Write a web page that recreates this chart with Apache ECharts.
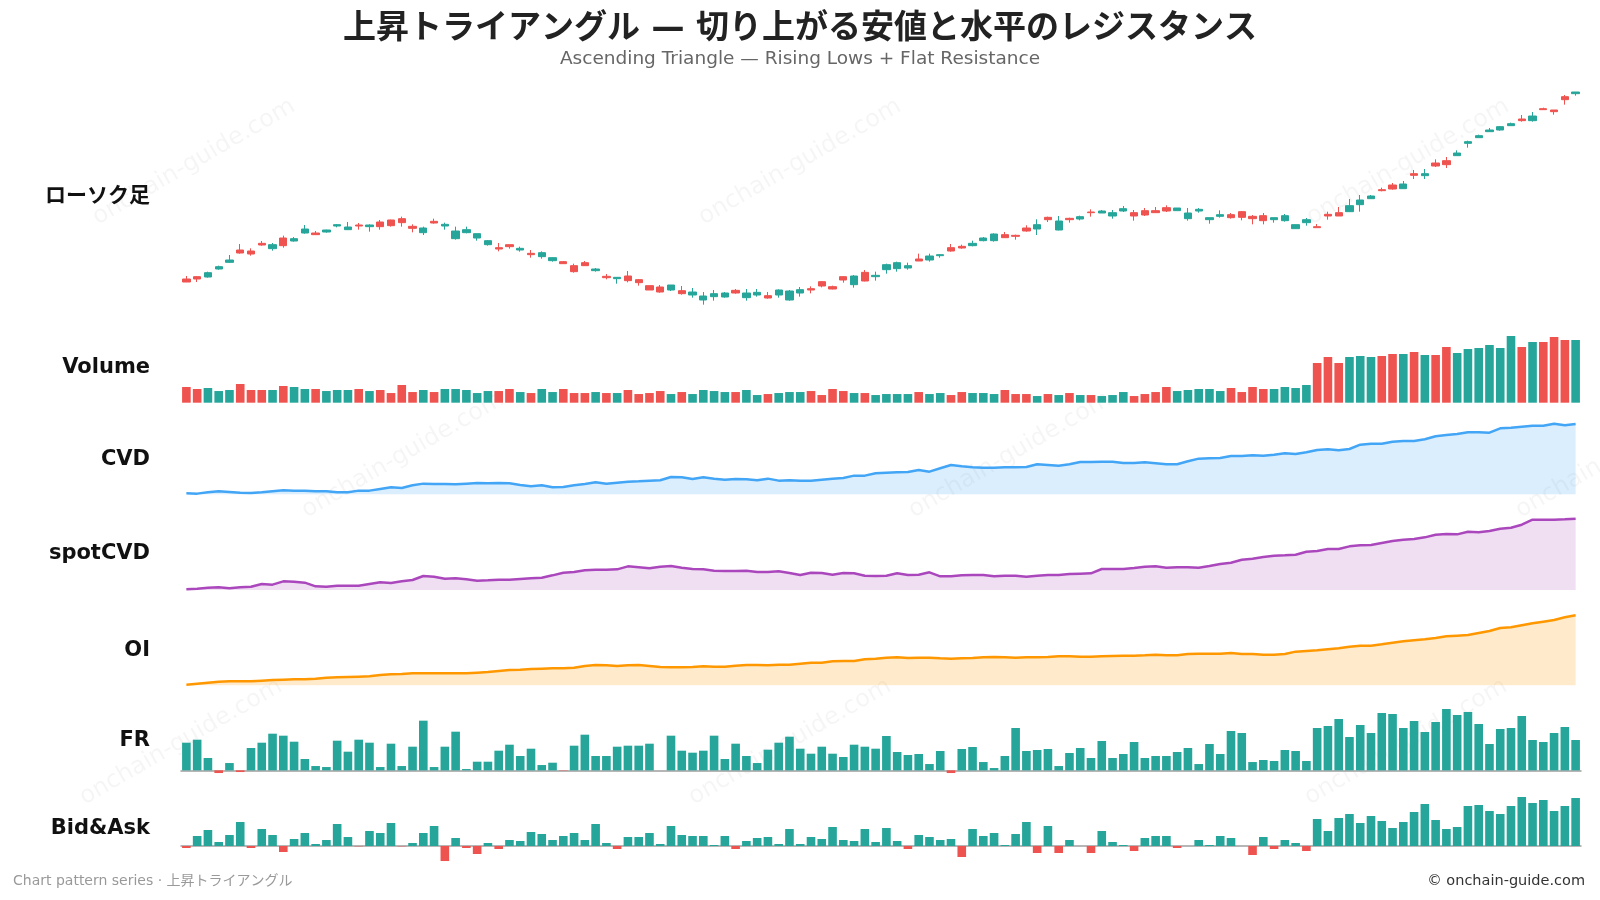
<!DOCTYPE html>
<html>
<head>
<meta charset="utf-8">
<title>上昇トライアングル</title>
<script src="https://cdn.jsdelivr.net/npm/echarts@6/dist/echarts.min.js"></script>
<style>
  html, body { margin: 0; padding: 0; background: #fff; }
  #chart { width: 1600px; height: 900px; }
</style>
</head>
<body>
<div id="chart"></div>
<script>
// ローソク足 [open, close, low, high]
var ohlc = [
  [40.3,39.4,39.4,41.2],[41.0,40.3,39.4,41.2],[40.9,42.2,40.7,42.5],[43.3,44.0,43.1,44.3],[45.3,46.0,45.1,47.5],
  [49.0,48.1,47.9,50.8],[48.7,47.8,47.3,49.5],[51.0,50.5,50.3,51.7],[49.4,50.6,48.8,51.1],[52.6,50.3,49.7,53.3],
  [51.7,52.4,51.5,52.9],[54.1,55.3,53.9,56.5],[54.1,53.6,53.5,54.7],[54.4,55.0,54.2,55.1],[56.2,56.6,55.8,56.8],
  [55.1,55.9,55.0,57.4],[56.5,56.2,55.1,57.1],[56.0,56.5,54.5,56.7],[57.4,56.0,55.1,58.0],[58.0,56.3,56.0,58.1],
  [58.4,57.2,56.0,59.0],[56.1,55.5,54.3,56.7],[54.2,55.6,53.5,56.0],[57.6,57.1,56.9,58.4],[56.2,56.7,55.1,57.2],
  [52.4,54.7,52.1,56.0],[54.2,55.1,54.0,56.0],[52.6,53.9,51.8,53.9],[50.6,51.8,50.3,52.0],[49.7,49.3,48.6,51.1],
  [50.6,50.0,49.4,50.6],[49.0,49.5,48.5,50.0],[48.0,47.6,46.7,49.0],[47.0,48.2,46.4,48.6],[45.8,46.7,45.5,46.8],
  [45.5,44.9,44.8,45.7],[44.3,42.5,42.2,44.9],[45.2,44.3,44.2,45.7],[42.8,43.3,42.5,43.6],[41.1,40.7,40.2,41.8],
  [40.4,40.8,38.9,40.8],[41.2,39.8,39.3,42.7],[40.1,39.2,38.3,40.3],[38.3,37.0,37.0,38.3],[37.9,36.4,36.2,38.5],
  [37.0,38.5,36.7,38.5],[36.8,35.9,35.6,38.2],[35.5,36.4,34.7,37.6],[34.0,35.2,32.6,36.4],[35.0,35.9,33.8,37.0],
  [34.9,36.1,34.7,36.4],[36.9,36.1,35.9,37.3],[34.7,36.1,33.8,37.3],[35.5,36.3,35.0,37.3],[35.3,34.6,34.4,36.4],
  [35.5,37.0,34.7,37.2],[34.0,36.7,33.8,37.0],[36.1,37.1,35.0,37.9],[37.4,37.0,36.0,38.1],[39.5,38.2,37.8,39.7],
  [38.0,37.3,37.2,38.3],[41.0,40.0,39.2,41.1],[38.6,41.2,37.7,41.5],[42.3,39.7,39.6,43.0],[41.0,41.4,39.8,42.5],
  [43.1,44.6,41.9,44.9],[43.4,45.2,42.5,45.5],[43.6,44.3,43.1,45.2],[46.3,45.7,45.7,47.9],[46.0,47.2,45.5,47.9],
  [47.3,47.6,46.7,47.8],[49.7,48.7,48.5,50.8],[50.1,49.6,49.4,50.6],[50.3,51.0,50.1,51.8],[51.8,52.6,51.6,52.9],
  [51.8,53.8,51.5,54.0],[53.6,52.7,52.6,54.4],[53.4,53.1,52.1,53.6],[55.6,54.7,54.5,56.4],[55.3,56.6,53.5,58.2],
  [58.8,58.1,57.4,59.0],[55.0,57.7,54.9,59.2],[58.5,58.1,57.2,58.7],[58.3,59.0,57.9,59.3],[60.4,60.2,59.0,61.2],
  [60.1,60.7,60.1,61.0],[59.2,60.2,58.4,61.0],[60.7,61.4,60.4,62.2],[60.2,59.2,57.8,61.0],[60.8,59.5,59.2,61.6],
  [60.8,60.2,60.1,61.9],[61.7,60.7,60.4,62.4],[60.8,61.6,60.8,61.6],[58.4,60.1,57.8,61.6],[60.7,61.2,60.2,61.6],
  [58.1,58.7,56.9,58.7],[59.1,59.6,58.7,60.9],[59.6,58.7,58.4,60.1],[60.5,58.8,57.9,60.7],[59.1,58.4,56.7,59.5],
  [59.3,57.8,56.7,60.1],[58.1,58.7,57.2,58.7],[57.8,59.3,57.5,59.8],[55.4,56.6,55.4,56.6],[57.2,58.1,56.3,58.6],
  [56.0,55.7,55.7,56.8],[59.7,59.2,58.1,60.5],[60.2,59.2,59.2,61.9],[60.5,62.3,60.5,64.3],[62.6,64.0,60.5,65.5],
  [64.4,65.2,64.4,65.5],[67.1,66.8,66.6,67.7],[68.5,67.3,67.1,69.1],[67.4,68.8,67.4,69.7],[71.9,71.4,70.3,73.0],
  [71.3,71.9,70.3,73.3],[75.1,74.2,73.9,76.2],[75.8,74.6,73.6,76.9],[77.3,78.1,77.3,78.9],[81.0,81.5,79.7,81.8],
  [82.7,83.3,82.7,83.6],[84.5,85.0,84.4,85.6],[85.0,86.0,84.8,86.2],[86.3,86.9,86.3,87.2],[88.3,87.8,87.5,89.5],
  [87.8,89.2,87.5,90.4],[91.4,91.1,91.1,91.7],[91.0,90.5,89.6,91.0],[95.0,94.1,92.6,95.5],[95.9,96.4,95.3,96.4]
]

var volume = [
  470,410,440,350,380,560,380,380,380,500, 470,410,410,350,380,380,410,350,380,290,
  530,320,380,320,410,410,380,290,350,350, 410,320,290,410,320,410,290,290,320,290,
  290,380,260,290,350,260,320,260,380,350, 320,320,380,230,260,290,320,320,350,230,
  410,350,290,290,230,260,260,260,320,260, 290,230,320,290,290,260,380,260,260,200,
  260,230,290,230,230,200,230,320,200,260, 320,470,350,380,410,410,350,440,320,470,
  410,410,470,440,530,1190,1370,1190,1370,1400, 1370,1400,1460,1460,1520,1430,1430,1670,1490,1610,
  1640,1730,1640,2000,1670,1820,1820,1970,1880,1880
]

var cvd = [
  30,20,60,90,70,50,40,60,90,120, 110,110,90,90,60,60,110,110,160,210,
  190,270,320,310,310,300,320,340,330,340, 330,280,240,270,210,220,270,310,360,320,
  350,380,390,410,420,520,510,460,510,470, 440,460,450,420,470,410,420,410,410,440,
  470,490,560,560,630,650,660,670,730,680, 780,880,840,810,800,800,810,810,820,900,
  880,860,900,970,970,980,980,940,940,960, 930,900,900,990,1070,1080,1090,1150,1150,1170,
  1160,1190,1230,1210,1260,1330,1350,1320,1360,1490, 1520,1520,1580,1600,1600,1650,1740,1780,1810,1860,
  1860,1850,1980,2000,2030,2060,2060,2120,2070,2110
]

var spotCvd = [
  20,40,70,80,50,80,100,180,160,260, 250,220,110,100,130,130,130,180,230,210,
  260,300,420,400,340,350,320,280,290,310, 310,330,350,370,440,520,540,590,610,610,
  620,710,680,650,700,720,670,630,620,580, 570,570,580,540,540,560,510,450,520,510,
  460,510,500,430,420,430,500,450,460,530, 410,410,440,450,450,410,430,430,400,430,
  450,450,480,490,500,630,630,630,660,700, 710,670,680,680,670,720,780,820,910,940,
  990,1030,1040,1060,1150,1170,1230,1230,1310,1340, 1350,1410,1470,1510,1530,1580,1660,1680,1670,1750,
  1730,1770,1840,1870,1960,2110,2110,2110,2120,2140
]

var oi = [
  20,50,80,110,120,120,120,140,160,170, 180,180,200,230,240,250,260,270,310,330,
  340,360,360,360,360,360,360,380,400,430, 460,470,490,500,510,510,530,580,610,600,
  580,600,610,580,550,540,540,550,570,560, 560,590,610,610,600,620,620,650,680,680,
  720,730,730,780,800,830,840,820,830,830, 810,800,810,820,840,850,840,830,840,840,
  850,870,870,860,860,870,880,890,890,900, 920,900,900,940,950,950,950,970,940,940,
  920,920,940,1010,1030,1050,1080,1110,1160,1190, 1190,1230,1280,1320,1350,1380,1420,1470,1490,1510,
  1570,1630,1720,1740,1800,1860,1910,1960,2040,2100
]

var fr = [
  83,92,37,-8,22,-5,67,83,110,104, 86,34,13,10,89,56,92,83,10,80,
  13,71,149,10,71,116,4,26,26,59, 77,43,65,16,23,-1,74,107,43,43,
  71,74,74,80,0,104,59,53,59,104, 34,80,43,22,62,83,101,65,50,71,
  50,40,77,71,65,103,55,46,49,19, 58,-8,64,70,25,7,43,127,58,61,
  64,13,52,67,37,88,37,49,85,37, 43,43,55,67,19,79,49,118,112,25,
  31,28,61,58,28,127,133,154,100,136, 112,172,169,127,148,115,145,184,166,175,
  139,79,124,127,163,91,85,112,130,91
]

var bidAsk = [
  -6,30,48,12,33,72,-6,51,33,-18, 21,39,6,18,66,27,-1,45,39,69,
  -1,9,39,60,-45,24,-6,-24,9,-9, 18,15,42,36,18,30,39,18,66,9,
  -9,27,27,39,6,60,33,30,30,3, 30,-9,15,24,27,6,51,6,27,21,
  57,18,15,51,12,54,15,-9,33,27, 18,21,-33,51,30,39,3,36,72,-21,
  60,-21,18,0,-21,45,12,3,-15,24, 30,30,-6,0,18,3,30,24,0,-27,
  27,-9,18,9,-15,81,45,84,96,69, 90,75,54,72,102,126,78,51,57,120,
  123,105,96,120,147,129,138,105,120,144
]

var panelNames = ['ローソク足', 'Volume', 'CVD', 'spotCVD', 'OI', 'FR', 'Bid&Ask']
var days = ohlc.map(function (d, i) { return i + 1 })

var UP = '#26a69a'
var DOWN = '#ef5350'
var FONT = '"DejaVu Sans", "Noto Sans CJK JP", sans-serif'

// パネル配置 (top, height) と y軸の範囲
var panels = [
  {top: 80, height: 230, min: 31, max: 100, labelY: 197},
  {top: 336, height: 66.7, min: 0, max: 2000, labelY: 368},
  {top: 421, height: 73.3, min: 0, max: 2200, labelY: 460},
  {top: 516.7, height: 73.3, min: 0, max: 2200, labelY: 554},
  {top: 612, height: 73.3, min: 0, max: 2200, labelY: 651},
  {top: 707, height: 66.7, min: -10, max: 190, labelY: 741},
  {top: 796, height: 66.7, min: -50, max: 150, labelY: 829}
]

function signColor (v) {
  return {value: v, itemStyle: {color: v >= 0 ? UP : DOWN}}
}

var volumeData = volume.map(function (v, i) {
  return {value: v, itemStyle: {color: ohlc[i][1] >= ohlc[i][0] ? UP : DOWN}}
})

function areaLine (name, idx, data, color, fill) {
  return {
    name: name,
    type: 'line',
    xAxisIndex: idx,
    yAxisIndex: idx,
    data: data,
    symbol: 'none',
    lineStyle: {color: color, width: 2.5},
    itemStyle: {color: color},
    areaStyle: {color: fill, opacity: 1}
  }
}

var watermarks = [
  [194, 162], [800, 162], [1408, 162],
  [403, 455], [1010, 455], [1617, 455],
  [181, 742], [790, 742], [1406, 742]
].map(function (p) {
  return {
    type: 'text',
    x: p[0],
    y: p[1],
    rotation: Math.PI / 6,
    silent: true,
    z: -10,
    style: {
      text: 'onchain-guide.com',
      font: '24px ' + FONT,
      fill: 'rgba(0,0,0,0.04)',
      textAlign: 'center',
      textVerticalAlign: 'middle'
    }
  }
})

var labels = panelNames.map(function (name, i) {
  return {
    type: 'text',
    x: 150,
    y: panels[i].labelY,
    style: {
      text: name,
      font: 'bold 21px ' + FONT,
      fill: '#111',
      textAlign: 'right',
      textVerticalAlign: 'middle'
    }
  }
})

var footer = [
  {
    type: 'text',
    x: 13,
    y: 881,
    style: {
      text: 'Chart pattern series · 上昇トライアングル',
      font: '14px ' + FONT,
      fill: '#999',
      textVerticalAlign: 'middle'
    }
  },
  {
    type: 'text',
    x: 1585,
    y: 881,
    style: {
      text: '© onchain-guide.com',
      font: '14.5px ' + FONT,
      fill: '#333',
      textAlign: 'right',
      textVerticalAlign: 'middle'
    }
  }
]

var myChart = echarts.init(document.getElementById('chart'))

var option = {
  animation: false,
  backgroundColor: '#fff',
  title: [
    {
      text: '上昇トライアングル — 切り上がる安値と水平のレジスタンス',
      left: 'center',
      top: 8,
      textStyle: {fontSize: 33, fontWeight: 'bold', color: '#222', fontFamily: FONT}
    },
    {
      text: 'Ascending Triangle — Rising Lows + Flat Resistance',
      left: 'center',
      top: 45,
      textStyle: {fontSize: 18.5, fontWeight: 'normal', color: '#666', fontFamily: FONT}
    }
  ],
  grid: panels.map(function (p) {
    return {left: 181, right: 19, top: p.top, height: p.height}
  }),
  xAxis: panels.map(function (p, i) {
    var baseline = i >= 5
    return {
      type: 'category',
      gridIndex: i,
      data: days,
      boundaryGap: true,
      show: baseline,
      axisLine: {show: baseline, onZero: true, lineStyle: {color: '#9e9e9e', width: 1.5}},
      axisTick: {show: false},
      axisLabel: {show: false},
      splitLine: {show: false}
    }
  }),
  yAxis: panels.map(function (p, i) {
    return {
      type: 'value',
      gridIndex: i,
      min: p.min,
      max: p.max,
      show: false,
      splitLine: {show: false}
    }
  }),
  graphic: watermarks.concat(labels, footer),
  series: [
    {
      name: 'ローソク足',
      type: 'candlestick',
      xAxisIndex: 0,
      yAxisIndex: 0,
      data: ohlc,
      barWidth: '72%',
      itemStyle: {
        color: UP,
        color0: DOWN,
        borderColor: UP,
        borderColor0: DOWN,
        borderWidth: 1
      }
    },
    {
      name: 'Volume',
      type: 'bar',
      xAxisIndex: 1,
      yAxisIndex: 1,
      data: volumeData,
      barWidth: '80%'
    },
    areaLine('CVD', 2, cvd, '#42a5f5', 'rgba(66,165,245,0.19)'),
    areaLine('spotCVD', 3, spotCvd, '#ab47bc', 'rgba(171,71,188,0.18)'),
    areaLine('OI', 4, oi, '#ff9800', 'rgba(255,152,0,0.2)'),
    {
      name: 'FR',
      type: 'bar',
      xAxisIndex: 5,
      yAxisIndex: 5,
      data: fr.map(signColor),
      barWidth: '80%'
    },
    {
      name: 'Bid&Ask',
      type: 'bar',
      xAxisIndex: 6,
      yAxisIndex: 6,
      data: bidAsk.map(signColor),
      barWidth: '80%'
    }
  ]
}

myChart.setOption(option)
</script>
</body>
</html>
